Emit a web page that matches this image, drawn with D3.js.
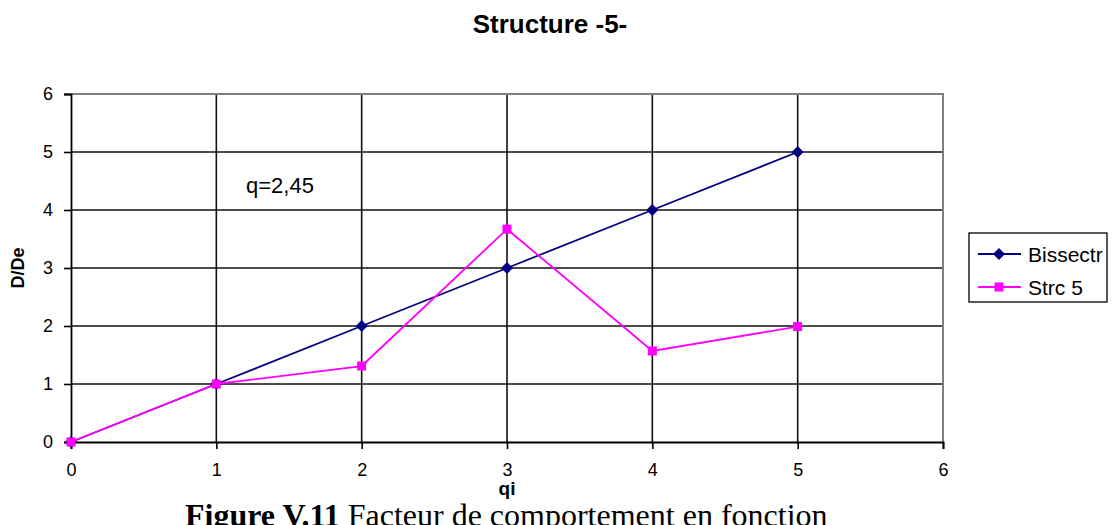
<!DOCTYPE html>
<html>
<head>
<meta charset="utf-8">
<script src="https://cdn.jsdelivr.net/npm/d3@7"></script>
<style>
  html, body { margin: 0; padding: 0; background: #fff; }
  svg { display: block; }
</style>
</head>
<body>
<svg id="chart" width="1117" height="525"></svg>
<script>
// Behaviour factor q_i against ductility ratio D/De
const qi = [0, 1, 2, 3, 4, 5];
const bissectr = [0, 1, 2, 3, 4, 5];
const strc5 = [0, 1, 1.31, 3.67, 1.57, 1.99];
const xTicks = [0, 1, 2, 3, 4, 5, 6];
const yTicks = [0, 1, 2, 3, 4, 5, 6];
const seriesNames = ["Bissectr", "Strc 5"];

const svg = d3.select("#chart");
const x = d3.scaleLinear().domain([0, 6]).range([71, 943]);
const y = d3.scaleLinear().domain([0, 6]).range([442, 94]);

// square diamond marker
const diamond = r => `M0,${-r}L${r},0L0,${r}L${-r},0Z`;

// plot area gridlines
const grid = svg.append("g");
grid.selectAll("line.h").data(yTicks.slice(1, -1)).join("line")
  .attr("x1", x(0)).attr("x2", x(6))
  .attr("y1", d => y(d)).attr("y2", d => y(d))
  .attr("stroke", "#111").attr("stroke-width", 1.6);
grid.selectAll("line.v").data(xTicks.slice(1, -1)).join("line")
  .attr("y1", y(0)).attr("y2", y(6))
  .attr("x1", d => x(d)).attr("x2", d => x(d))
  .attr("stroke", "#111").attr("stroke-width", 1.6);

// plot area frame (top / right in grey)
svg.append("path")
  .attr("d", `M${x(0)},${y(6)}H${x(6)}V${y(0)}`)
  .attr("fill", "none").attr("stroke", "#808080").attr("stroke-width", 2);

// axes
const axisFont = "Arial, 'Liberation Sans', sans-serif";
const yAxis = svg.append("g").attr("transform", `translate(${x(0)},0)`)
  .call(d3.axisLeft(y).tickValues(yTicks).tickSize(7).tickPadding(11).tickFormat(d3.format("d")));
const xAxis = svg.append("g").attr("transform", `translate(0,${y(0)})`)
  .call(d3.axisBottom(x).tickValues(xTicks).tickSize(7).tickPadding(14).tickFormat(d3.format("d")));
[yAxis, xAxis].forEach(g => {
  g.select(".domain").attr("stroke", "#000").attr("stroke-width", 1.8);
  g.selectAll(".tick line").attr("stroke", "#000").attr("stroke-width", 1.6);
  g.selectAll(".tick text").attr("font-family", axisFont).attr("font-size", 18).attr("fill", "#000");
});

// series
const line = d3.line().x(d => x(d[0])).y(d => y(d[1]));
const bisPts = qi.map((q, i) => [q, bissectr[i]]);
const strPts = qi.map((q, i) => [q, strc5[i]]);

svg.append("path").datum(bisPts).attr("d", line)
  .attr("fill", "none").attr("stroke", "#000080").attr("stroke-width", 1.8);
svg.append("g").selectAll("path").data(bisPts).join("path")
  .attr("d", diamond(6))
  .attr("transform", d => `translate(${x(d[0])},${y(d[1])})`)
  .attr("fill", "#000080");

svg.append("path").datum(strPts).attr("d", line)
  .attr("fill", "none").attr("stroke", "#ff00ff").attr("stroke-width", 1.8);
svg.append("g").selectAll("rect").data(strPts).join("rect")
  .attr("x", d => x(d[0]) - 4.5).attr("y", d => y(d[1]) - 4.5)
  .attr("width", 9).attr("height", 9)
  .attr("fill", "#ff00ff");

// annotation
svg.append("text").attr("x", 246).attr("y", 193)
  .attr("font-family", axisFont).attr("font-size", 22).attr("fill", "#000")
  .text("q=2,45");

// titles
svg.append("text").attr("x", 550).attr("y", 33).attr("text-anchor", "middle")
  .attr("font-family", axisFont).attr("font-size", 26).attr("font-weight", "bold")
  .text("Structure -5-");
svg.append("text").attr("transform", `translate(24,${y(3)}) rotate(-90)`)
  .attr("text-anchor", "middle")
  .attr("font-family", axisFont).attr("font-size", 18).attr("font-weight", "bold")
  .text("D/De");

// legend
const lg = svg.append("g");
lg.append("rect").attr("x", 969).attr("y", 233).attr("width", 138).attr("height", 69)
  .attr("fill", "#fff").attr("stroke", "#000").attr("stroke-width", 1.3);
const legendRows = [
  { name: seriesNames[0], color: "#000080", y: 254, shape: "diamond" },
  { name: seriesNames[1], color: "#ff00ff", y: 287, shape: "square" }
];
legendRows.forEach(r => {
  lg.append("line").attr("x1", 978).attr("x2", 1021).attr("y1", r.y).attr("y2", r.y)
    .attr("stroke", r.color).attr("stroke-width", 1.8);
  if (r.shape === "diamond") {
    lg.append("path").attr("d", diamond(6))
      .attr("transform", `translate(999,${r.y})`).attr("fill", r.color);
  } else {
    lg.append("rect").attr("x", 994.5).attr("y", r.y - 4.5).attr("width", 9).attr("height", 9)
      .attr("fill", r.color);
  }
  lg.append("text").attr("x", 1028).attr("y", r.y).attr("dy", "0.36em")
    .attr("font-family", axisFont).attr("font-size", 21).attr("fill", "#000")
    .text(r.name);
});

// figure caption below the chart
const cap = svg.append("text").attr("x", 185).attr("y", 526)
  .attr("font-family", "'Times New Roman', 'Liberation Serif', serif").attr("font-size", 32)
  .attr("fill", "#000");
cap.append("tspan").attr("font-weight", "bold").text("Figure V.11");
cap.append("tspan").text(" Facteur de comportement en fonction");

// x axis title (drawn over the caption)
svg.append("text").attr("x", 507).attr("y", 495).attr("text-anchor", "middle")
  .attr("font-family", axisFont).attr("font-size", 19).attr("font-weight", "bold")
  .text("qi");
</script>
</body>
</html>
